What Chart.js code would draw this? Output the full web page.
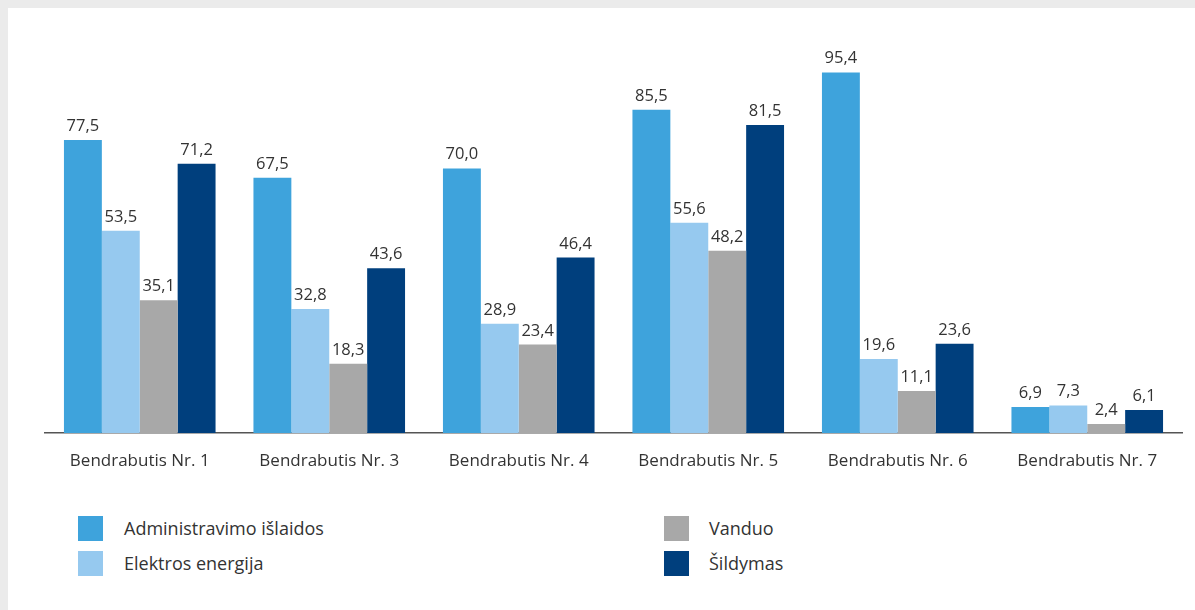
<!DOCTYPE html>
<html>
<head>
<meta charset="utf-8">
<script src="https://cdn.jsdelivr.net/npm/chart.js@4.4.1/dist/chart.umd.min.js"></script>
<style>
  html, body { margin: 0; padding: 0; background: #ebebeb; }
  body { width: 1195px; height: 610px; overflow: hidden; position: relative; font-family: "Open Sans", sans-serif; }
  #panel { position: absolute; left: 8px; top: 8px; width: 1187px; height: 602px; background: #fff; }
  #wrap { position: absolute; left: 0; top: 0; width: 1195px; height: 480px; }
  .leg { position: absolute; height: 25px; line-height: 25px; font-size: 18px; color: #333; white-space: nowrap; }
  .leg span.box { position: absolute; left: 0; top: 0; width: 25px; height: 25px; }
  .leg span.txt { position: absolute; top: 0; }
</style>
</head>
<body>
<div id="panel"></div>
<div id="wrap"><canvas id="myChart" width="1195" height="480"></canvas></div>
<div id="legend"></div>
<script>
const categories = ['Bendrabutis Nr. 1', 'Bendrabutis Nr. 3', 'Bendrabutis Nr. 4', 'Bendrabutis Nr. 5', 'Bendrabutis Nr. 6', 'Bendrabutis Nr. 7']
const administravimo = [77.5, 67.5, 70.0, 85.5, 95.4, 6.9]
const elektros = [53.5, 32.8, 28.9, 55.6, 19.6, 7.3]
const vanduo = [35.1, 18.3, 23.4, 48.2, 11.1, 2.4]
const sildymas = [71.2, 43.6, 46.4, 81.5, 23.6, 6.1]
const seriesNames = ['Administravimo išlaidos', 'Elektros energija', 'Vanduo', 'Šildymas']
const seriesColors = ['#3ea3dc', '#96c9ef', '#a8a8a8', '#003f7d']

const FONT = '"Open Sans", sans-serif'

// value labels above each bar, with a decimal comma
const valueLabels = {
    id: 'valueLabels',
    afterDatasetsDraw(chart) {
        const ctx = chart.ctx
        ctx.save()
        ctx.font = '16.5px ' + FONT
        ctx.fillStyle = '#333'
        ctx.textAlign = 'center'
        ctx.textBaseline = 'alphabetic'
        chart.data.datasets.forEach((ds, i) => {
            chart.getDatasetMeta(i).data.forEach((bar, j) => {
                const txt = ds.data[j].toFixed(1).replace('.', ',')
                ctx.fillText(txt, bar.x, bar.y - 9)
            })
        })
        ctx.restore()
    }
}

const data = {
    labels: categories,
    datasets: [administravimo, elektros, vanduo, sildymas].map((vals, i) => ({
        label: seriesNames[i],
        data: vals,
        backgroundColor: seriesColors[i],
        borderWidth: 0,
        categoryPercentage: 0.8,
        barPercentage: 1.0
    }))
}

const config = {
    type: 'bar',
    data: data,
    options: {
        responsive: false,
        animation: false,
        layout: { padding: { top: 55, left: 45, right: 13, bottom: 0 } },
        plugins: {
            legend: { display: false },
            tooltip: { enabled: false }
        },
        scales: {
            x: {
                grid: { display: false, drawTicks: false },
                border: { display: true, color: '#555', width: 1.5 },
                ticks: { color: '#333', font: { family: FONT, size: 17 }, padding: 18 },
                afterFit(scale) { scale.height = 47 }
            },
            y: {
                display: false,
                min: 0,
                max: 100
            }
        }
    },
    plugins: [valueLabels]
}

const chart = new Chart(document.getElementById('myChart'), config)

// legend in two columns
const legendPos = [[78, 516], [78, 551], [664, 516], [664, 551]]
const legend = document.getElementById('legend')
chart.data.datasets.forEach((ds, i) => {
    const item = document.createElement('div')
    item.className = 'leg'
    item.style.left = legendPos[i][0] + 'px'
    item.style.top = legendPos[i][1] + 'px'
    item.innerHTML = '<span class="box" style="background:' + ds.backgroundColor + '"></span>' +
        '<span class="txt" style="left:' + (i < 2 ? 46 : 45) + 'px">' + ds.label + '</span>'
    legend.appendChild(item)
})
</script>
</body>
</html>
